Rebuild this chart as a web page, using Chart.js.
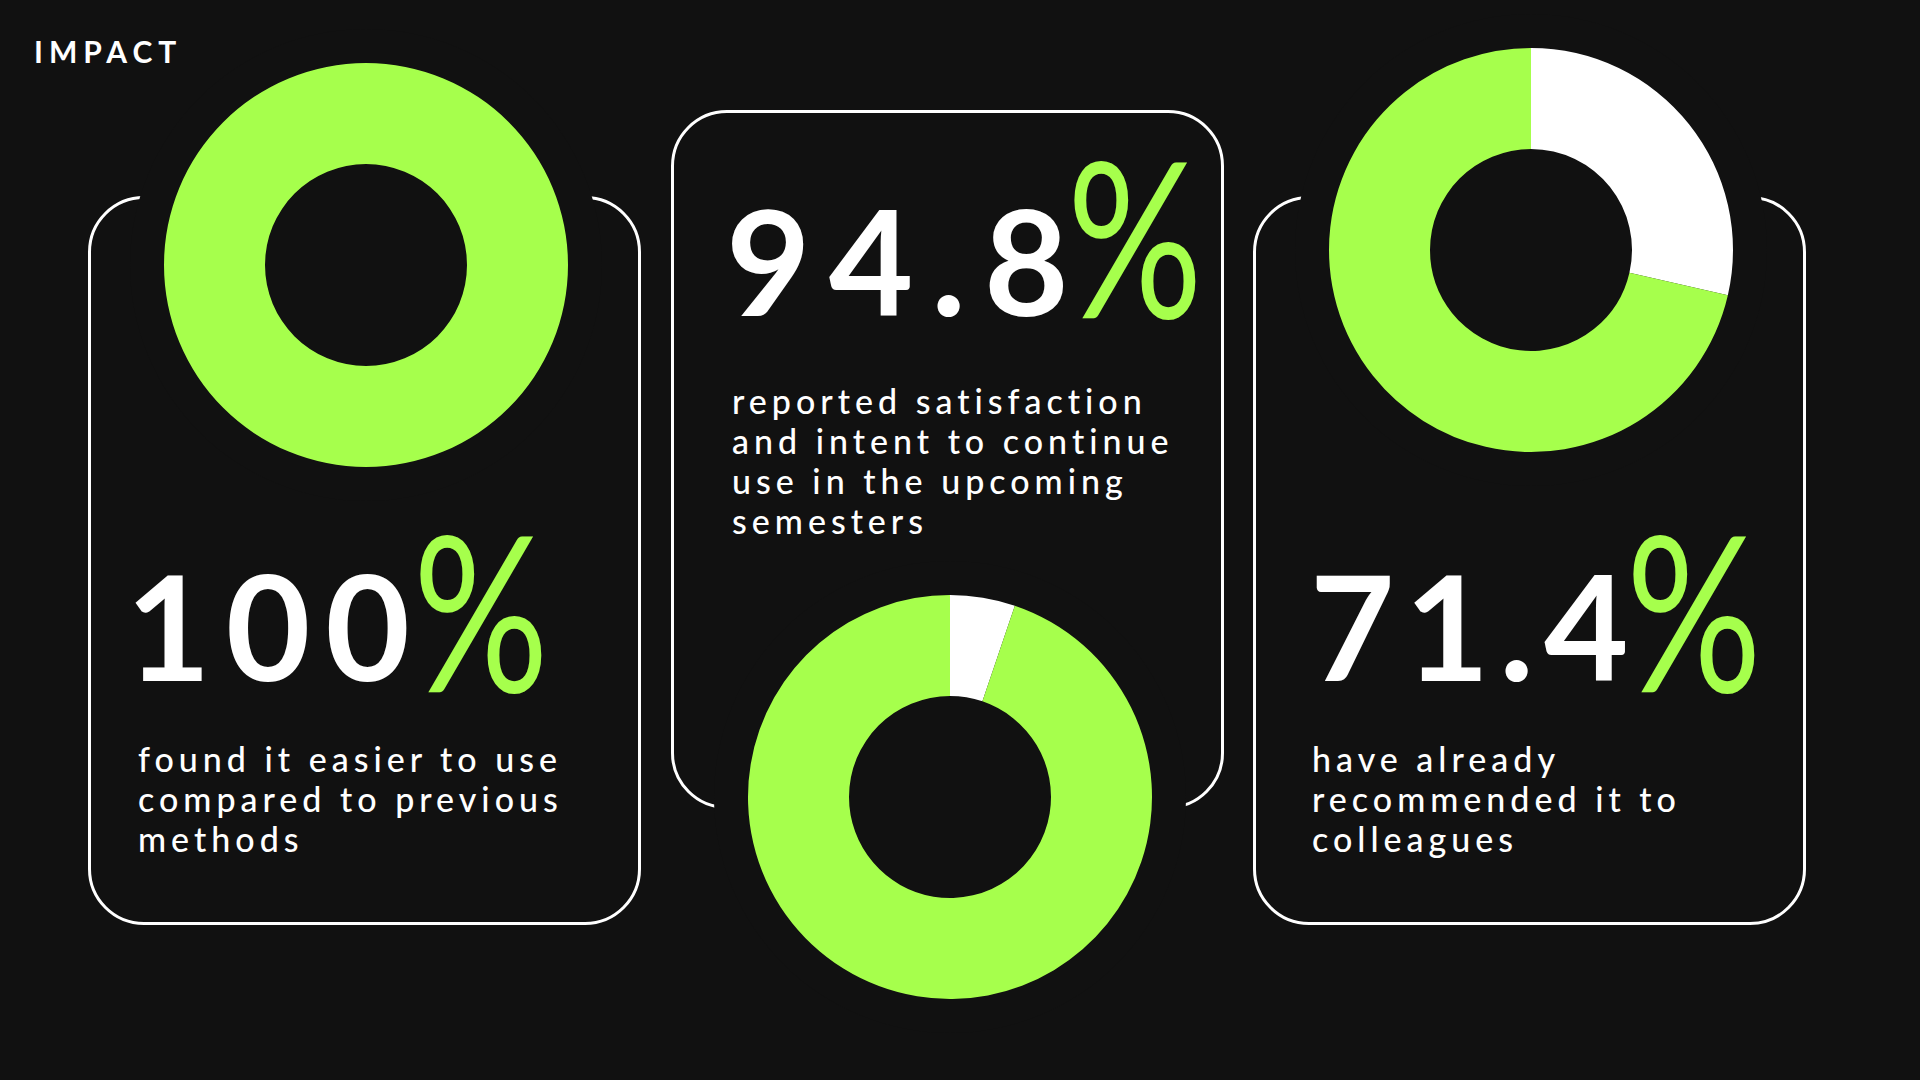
<!DOCTYPE html>
<html>
<head>
<meta charset="utf-8">
<title>Impact</title>
<script src="https://cdn.jsdelivr.net/npm/chart.js@4.4.0/dist/chart.umd.min.js"></script>
<style>
  html, body {
    margin: 0;
    padding: 0;
    background: #111111;
  }
  body {
    width: 1920px;
    height: 1080px;
    position: relative;
    overflow: hidden;
    font-family: Lato, 'Noto Sans', sans-serif;
    color: #ffffff;
  }
  .title {
    position: absolute;
    left: 34px;
    top: 36px;
    font-size: 30px;
    line-height: 30px;
    font-weight: 700;
    letter-spacing: 6px;
  }
  .card {
    position: absolute;
    box-sizing: border-box;
    border: 3px solid #ffffff;
    border-radius: 56px;
    width: 553px;
  }
  .donut {
    position: absolute;
    z-index: 2;
  }
  .big {
    position: absolute;
    z-index: 3;
    white-space: nowrap;
    font-size: 146px;
    line-height: 146px;
    font-weight: 700;
    letter-spacing: 15px;
  }
  .pct {
    position: absolute;
    z-index: 3;
    font-size: 217px;
    line-height: 217px;
    font-weight: 400;
    color: #a6ff4c;
    transform: scaleX(0.78);
    transform-origin: 0 0;
  }
  .desc {
    position: absolute;
    z-index: 3;
    white-space: nowrap;
    font-size: 34px;
    line-height: 40px;
    font-weight: 500;
    letter-spacing: 5px;
  }
</style>
</head>
<body>
<div class="title">IMPACT</div>

<div class="card" style="left:88px; top:196px; height:729px;"></div>
<div class="card" style="left:671px; top:110px; height:699px;"></div>
<div class="card" style="left:1253px; top:196px; height:729px;"></div>

<canvas id="donut-one" class="donut" width="480" height="480" style="left:126px; top:25px;"></canvas>
<canvas id="donut-two" class="donut" width="480" height="480" style="left:710px; top:557px;"></canvas>
<canvas id="donut-three" class="donut" width="480" height="480" style="left:1291px; top:10px;"></canvas>

<div id="big-one" class="big" style="left:126px; top:552px;"></div>
<div class="pct" style="left:413px; top:500px;">%</div>
<div class="desc" style="left:138px; top:739px;">found it easier to use<br>compared to previous<br>methods</div>

<div id="big-two" class="big" style="left:726px; top:187px; letter-spacing:18px;"></div>
<div class="pct" style="left:1067px; top:126px;">%</div>
<div class="desc" style="left:732px; top:381px;">reported satisfaction<br>and intent to continue<br>use in the upcoming<br>semesters</div>

<div id="big-three" class="big" style="left:1310px; top:552px; letter-spacing:10px;"></div>
<div class="pct" style="left:1626px; top:500px;">%</div>
<div class="desc" style="left:1312px; top:739px;">have already<br>recommended it to<br>colleagues</div>

<script>
'use strict';

// *************** DATA
let metricLabels = ['Easier than previous methods', 'Satisfied and will continue', 'Already recommended'];
let yesValues = [100, 94.8, 71.4];
let restValues = [0, 5.2, 28.6];

// *************** COLOURS
let bgColor = '#111111';
let greenColor = '#a6ff4c';
let whiteColor = '#ffffff';

// *************** DOM WINDOWS
let canvasIds = ['donut-one', 'donut-two', 'donut-three'];
let bigIds = ['big-one', 'big-two', 'big-three'];

// ** paints a dark disc behind the ring so the card outline looks cut where the donut sits
let maskPlugin = {
  id: 'ringMask',
  beforeDatasetsDraw(chart) {
    let arc = chart.getDatasetMeta(0).data[0];
    if (!arc) return;
    let ctx = chart.ctx;
    ctx.save();
    ctx.fillStyle = bgColor;
    ctx.beginPath();
    ctx.arc(arc.x, arc.y, arc.outerRadius + 34, 0, Math.PI * 2);
    ctx.fill();
    ctx.restore();
  }
};

function renderDonut(i) {
  let ctx = document.getElementById(canvasIds[i]).getContext('2d');
  let chartObj = {
    type: 'doughnut',
    data: {
      labels: ['Other', metricLabels[i]],
      datasets: [{
        data: [restValues[i], yesValues[i]],
        backgroundColor: [whiteColor, greenColor],
        borderWidth: 0
      }]
    },
    options: {
      responsive: false,
      animation: false,
      cutout: '50%',
      layout: { padding: 38 },
      plugins: {
        legend: { display: false },
        tooltip: { enabled: false }
      }
    },
    plugins: [maskPlugin]
  };
  new Chart(ctx, chartObj);//eslint-disable-line
}

for (let i = 0; i < yesValues.length; i++) {
  document.getElementById(bigIds[i]).textContent = String(yesValues[i]);
  renderDonut(i);
}
</script>
</body>
</html>
